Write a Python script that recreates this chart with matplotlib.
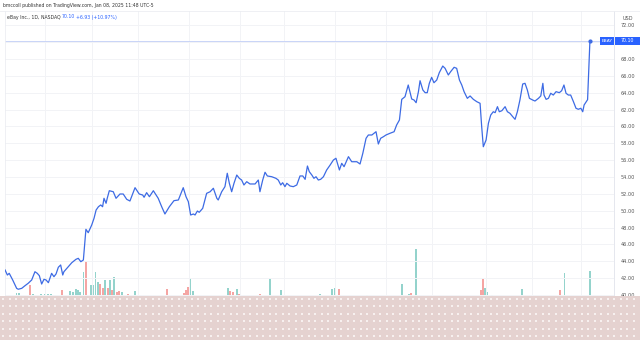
import matplotlib
matplotlib.use("Agg")
import matplotlib.pyplot as plt
import numpy as np
from matplotlib.patches import Rectangle

# eBay daily close, trading-day index from start of 2024
day = [3.6, 4.6, 5.4, 6.9, 8.6, 9.3, 10.8, 12.2, 13.6, 15.1, 16.5, 17.5, 18.4, 19.4, 20.4,
       21.3, 22.3, 23.7, 24.7, 25.6, 26.6, 27.6, 28.5, 29.0, 30.9, 32.4, 34.2, 35.2, 36.3, 37.4,
       38.5, 39.5, 41.0, 42.0, 42.9, 43.9, 44.9, 45.7, 46.3, 47.2, 47.7, 48.6, 50.3, 51.5, 53.2,
       54.6, 56.1, 57.5, 59.7, 61.5, 63.0, 63.6, 64.7, 65.9, 67.6, 69.7, 71.2, 72.6, 74.5, 76.5,
       78.4, 80.5, 81.7, 82.7, 83.7, 84.9, 85.6, 86.6, 87.4, 88.9, 90.6, 92.1, 93.5, 95.0, 95.6,
       97.1, 98.5, 99.5, 100.4, 101.4, 102.4, 103.6, 104.7, 105.7, 106.7, 107.9, 109.3, 111.5, 112.9, 113.6,
       114.8, 115.8, 116.8, 118.7, 120.5, 121.5, 122.6, 123.4, 124.4, 125.2, 126.6, 128.0, 129.5, 130.9, 132.1,
       133.1, 134.1, 134.9, 136.0, 136.9, 137.8, 138.8, 139.8, 141.0, 142.4, 143.9, 145.3, 146.4, 147.9, 148.9,
       149.9, 151.8, 153.2, 155.4, 156.8, 158.0, 159.4, 160.4, 161.9, 163.7, 164.7, 165.7, 166.9, 168.0, 169.7,
       171.5, 172.6, 173.8, 174.8, 176.2, 177.6, 179.1, 180.1, 181.0, 182.0, 182.7, 183.9, 184.9, 185.8, 186.7,
       187.7, 188.7, 189.9, 191.0, 192.5, 193.5, 194.9, 195.9, 197.4, 198.5, 199.7, 200.7, 201.7, 203.1, 204.3,
       205.7, 207.2, 208.6, 209.3, 210.0, 211.2, 212.2, 213.2, 214.3, 215.1, 216.1, 216.9, 218.0, 219.4, 220.4,
       221.5, 222.7, 223.7, 224.7, 225.8, 227.0, 228.0, 229.0, 229.9, 231.3, 232.3, 233.8, 234.8, 235.7, 236.2,
       237.1, 238.1, 239.1, 240.2, 241.4, 242.8, 243.8, 244.8, 245.7, 246.7, 247.7, 248.9, 250.0, 251.0, 252.1,
       252.9, 253.5, 254.4, 255.0, 256.0]
close = [42.97, 42.37, 42.57, 41.78, 40.79, 40.68, 40.79, 41.10, 41.39, 41.78, 42.76, 42.57, 42.29, 41.30, 41.86,
         41.78, 41.46, 42.57, 42.17, 42.49, 43.29, 43.56, 42.37, 42.76, 43.36, 43.83, 44.23, 44.35, 43.95, 44.15,
         47.79, 47.39, 48.30, 49.10, 50.08, 50.47, 50.68, 50.47, 51.47, 50.88, 51.47, 52.37, 52.25, 51.47, 51.98,
         51.98, 51.35, 51.15, 52.73, 51.98, 51.86, 51.59, 52.14, 51.66, 52.37, 51.47, 50.47, 49.61, 50.47, 51.19,
         51.27, 52.73, 51.66, 51.07, 49.49, 49.61, 49.49, 49.96, 49.81, 50.28, 52.06, 52.25, 52.66, 51.47, 51.27,
         52.25, 52.85, 54.44, 53.25, 52.25, 53.25, 54.23, 53.84, 53.64, 53.05, 53.44, 53.17, 53.17, 53.64, 52.25,
         53.64, 54.56, 54.12, 54.03, 53.84, 53.64, 53.05, 53.32, 52.85, 53.25, 52.93, 52.85, 53.05, 54.12, 54.12,
         53.72, 55.30, 54.63, 54.23, 53.84, 54.03, 53.64, 53.72, 54.03, 54.83, 55.42, 56.01, 56.22, 54.83, 55.62,
         55.22, 56.41, 55.81, 55.81, 55.54, 56.81, 58.59, 58.98, 58.98, 59.37, 57.91, 58.59, 58.78, 58.98, 59.18,
         59.37, 60.17, 60.76, 63.21, 63.52, 64.91, 63.25, 63.13, 62.81, 64.12, 65.42, 64.32, 64.00, 64.00, 65.11,
         65.82, 65.18, 65.50, 66.37, 67.16, 66.89, 66.10, 66.49, 67.01, 66.89, 65.50, 64.91, 64.12, 63.33, 63.61,
         63.21, 62.93, 62.74, 59.96, 57.59, 58.39, 60.37, 61.35, 61.74, 61.63, 62.34, 61.74, 61.86, 62.34, 61.74,
         61.55, 61.15, 60.84, 61.74, 63.13, 65.03, 65.11, 64.32, 63.33, 63.13, 63.01, 63.33, 63.61, 65.11, 63.72,
         63.21, 63.33, 63.93, 63.72, 64.12, 64.00, 64.23, 64.91, 63.93, 63.72, 63.72, 62.93, 62.15, 62.03, 62.15,
         61.74, 62.54, 62.93, 63.17, 70.10]

# volume bars that stick out above the overlay (millions, g = up day, r = down day)
vol_day = [8.6, 9.5, 14.4, 15.7, 19.1, 20.8, 22.1, 23.4, 28.2, 31.6, 32.9, 34.2, 35.1, 35.9, 37.5,
           38.5, 40.6, 41.6, 42.7, 43.7, 44.6, 45.9, 46.7, 48.0, 48.8, 49.8, 50.6, 51.9, 52.8, 54.1,
           56.7, 59.6, 73.4, 80.8, 81.7, 82.6, 83.7, 84.7, 99.8, 100.7, 102.0, 103.6, 104.6, 113.6, 118.0,
           122.7, 139.5, 144.7, 145.9, 147.7, 159.8, 174.8, 178.0, 178.8, 181.0, 208.9, 209.8, 210.8, 211.6, 213.8,
           226.7, 243.0, 245.1, 256.0]
vol = [5.6, 5.5, 9.1, 5.0, 5.0, 5.1, 5.0, 5.0, 6.8, 6.5, 5.9, 7.3, 6.8, 5.9, 15.1,
       20.1, 9.1, 9.1, 15.1, 10.6, 9.5, 7.7, 11.4, 7.7, 11.4, 6.8, 12.9, 5.9, 6.5, 5.9,
       5.0, 6.4, 7.3, 5.5, 6.8, 8.3, 12.1, 6.4, 7.6, 6.4, 5.9, 7.3, 5.0, 5.0, 11.7,
       6.8, 5.0, 7.3, 7.6, 7.3, 4.5, 9.5, 5.1, 5.6, 25.3, 6.8, 11.7, 7.7, 5.9, 4.5,
       7.3, 6.8, 14.7, 15.5]
vol_dir = "ggrgggggrgggggg" "rggggrrgrgrgrrg" "rgrrrrgggrrgrrg" "ggggrgggrgrrggg" "grgg"

month_starts = [21, 41, 61, 83, 105, 124, 146, 168, 188, 211, 231, 252]
price_ticks = np.arange(40, 74, 2)

blue = "#2962ff"
W, H = 640, 340

fig = plt.figure(figsize=(6.4, 3.4), dpi=100)
fig.patch.set_facecolor("white")
# plot pane: x 5..614 px, y 11..340 px
ax = fig.add_axes([5 / W, 0, 609 / W, 329 / H])
ax.set_facecolor("white")
ax.set_xlim(3.58, 266.4)
ax.set_ylim(34.66, 73.69)

for d in month_starts:
    ax.axvline(d, color="#f2f3f6", lw=0.7, zorder=0)
for p in price_ticks:
    ax.axhline(p, color="#f2f3f6", lw=0.7, zorder=0)

# volume on its own scale underneath
axv = ax.twinx()
axv.set_ylim(-15.9, 133.6)
axv.set_axis_off()
vcol = ["#94d3cc" if c == "g" else "#f5a5a3" for c in vol_dir]
axv.bar(vol_day, np.array(vol) + 20, width=0.7, bottom=-20, color=vcol, zorder=1)

ax.set_zorder(axv.get_zorder() + 1)
ax.patch.set_visible(False)

ax.axhline(close[-1], color="#c9d4f7", lw=0.7, zorder=1)
ax.plot(day, close, color="#3d6be4", lw=0.9, zorder=3)
ax.plot(day[-1], close[-1], "o", color="#3d6be4", ms=2, zorder=4)

ax.yaxis.tick_right()
ax.set_yticks(price_ticks)
# 70.00 sits under the last-price tag
ax.set_yticklabels(["" if p == 70 else f"{p:.2f}" for p in price_ticks])
ax.tick_params(axis="y", length=0, pad=5, labelsize=3.6, labelcolor="#555555")
ax.set_xticks([])
for s in ["top", "bottom"]:
    ax.spines[s].set_visible(False)
ax.spines["left"].set_color("#eceef2")
ax.spines["left"].set_linewidth(0.6)
ax.spines["right"].set_color("#e0e3eb")
ax.spines["right"].set_linewidth(0.6)

# header texts
fig.text(3 / W, 1 - 5 / H, "bmccoll published on TradingView.com, Jan 08, 2025 11:48 UTC-5",
         fontsize=3.3, color="#333333", va="center")
fig.text(7 / W, 1 - 17 / H, "eBay Inc., 1D, NASDAQ", fontsize=3.3, color="#333333", va="center")
fig.text(62 / W, 1 - 17 / H, "70.10", fontsize=3.3, color=blue, va="center")
fig.text(76 / W, 1 - 17 / H, "+6.93 (+10.97%)", fontsize=3.3, color=blue, va="center")
fig.add_artist(plt.Line2D([0, 1], [1 - 11 / H, 1 - 11 / H], color="#eceef2", lw=0.6))
fig.text(628 / W, 1 - 18 / H, "USD", fontsize=3.6, color="#555555", ha="center", va="center",
         bbox=dict(boxstyle="square,pad=0.5", fc="white", ec="none"))

# last price tag: two blue boxes side by side
for x0, x1 in [(600, 614), (615, 640)]:
    fig.add_artist(Rectangle((x0 / W, 1 - 44.5 / H), (x1 - x0) / W, 7 / H,
                             transform=fig.transFigure, facecolor=blue, edgecolor="none", zorder=5))
fig.text(607 / W, 1 - 41 / H, "EBAY", fontsize=3.2, color="white", ha="center", va="center", zorder=6)
fig.text(627.5 / W, 1 - 41 / H, "70.10", fontsize=3.4, color="white", ha="center", va="center", zorder=6)

# pink dotted overlay at the bottom
fig.add_artist(Rectangle((0, 0), 1, 44 / H, transform=fig.transFigure,
                         facecolor="#e5d2d0", edgecolor="none", zorder=10))
dx, dy = np.meshgrid(np.arange(3, W, 6.5), np.arange(299, H, 7.4))
ov = fig.add_axes([0, 0, 1, 1], zorder=11)
ov.set_xlim(0, W)
ov.set_ylim(H, 0)
ov.set_axis_off()
ov.patch.set_visible(False)
ov.scatter(dx.ravel(), dy.ravel(), s=1.5, marker="s", color="#f7f0ef", linewidths=0)

fig.savefig("out.png", dpi=100)
